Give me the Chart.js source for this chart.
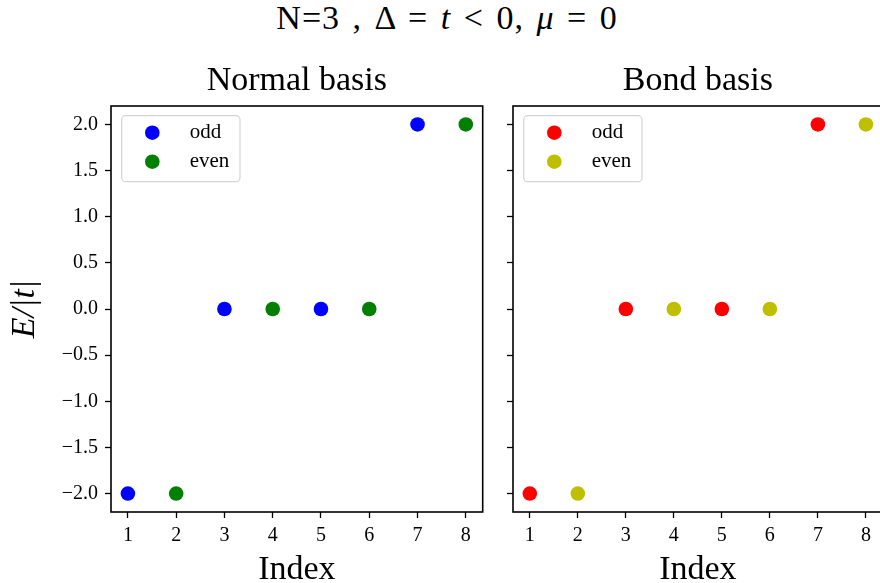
<!DOCTYPE html>
<html>
<head>
<meta charset="utf-8">
<script src="https://cdn.jsdelivr.net/npm/chart.js@4.4.1/dist/chart.umd.min.js"></script>
<style>
  html, body { margin: 0; padding: 0; background: #fff; overflow: hidden; width: 880px; height: 583px; }
  #wrap { position: relative; width: 880px; height: 583px; overflow: hidden; }
  #suptitle { position: absolute; left: 0; top: 1px; width: 894px; text-align: center;
    font-family: "Liberation Serif", serif; font-size: 34px; line-height: 1; color: #000; white-space: pre;
    letter-spacing: 1px; word-spacing: 3px; }
  canvas { position: absolute; top: 0; }
</style>
</head>
<body>
<div id="wrap">
  <div id="suptitle">N=3 , Δ = <i>t</i> &lt; 0, <i>μ</i> = 0</div>
  <canvas id="c1" width="490" height="600" style="left:0px"></canvas>
  <canvas id="c2" width="400" height="600" style="left:490px"></canvas>
</div>
<script>
// ---- data ----
const oddIndex = [1, 3, 5, 7];
const evenIndex = [2, 4, 6, 8];
const normalOdd = [-2.0, 0.0, 0.0, 2.0];
const normalEven = [-2.0, 0.0, 0.0, 2.0];
const bondOdd = [-2.0, 0.0, 0.0, 2.0];
const bondEven = [-2.0, 0.0, 0.0, 2.0];
const xTicks = [1, 2, 3, 4, 5, 6, 7, 8];
const yTicks = [-2.0, -1.5, -1.0, -0.5, 0.0, 0.5, 1.0, 1.5, 2.0];
const seriesLabels = ['odd', 'even'];
const subTitles = ['Normal basis', 'Bond basis'];
const xTitle = 'Index';
const yTitle = 'E/|t|';

const FONT = '"Liberation Serif", serif';

function pts(xs, ys) { return xs.map((x, i) => ({ x: x, y: ys[i] })); }
function fmtY(v) { return (v < 0 ? '\u2212' : '') + Math.abs(v).toFixed(1); }

const framePlugin = {
  id: 'frame',
  afterDraw(chart) {
    const a = chart.chartArea, ctx = chart.ctx;
    ctx.save();
    ctx.strokeStyle = '#000';
    ctx.lineWidth = 1.6;
    ctx.strokeRect(a.left, a.top, a.right - a.left, a.bottom - a.top);
    // legend
    const bx = a.left + 10.7, by = a.top + 9.7, bw = 118.3, bh = 66, r = 4;
    ctx.globalAlpha = 0.8;
    ctx.fillStyle = '#fff';
    ctx.beginPath();
    ctx.roundRect(bx, by, bw, bh, r);
    ctx.fill();
    ctx.globalAlpha = 1;
    ctx.strokeStyle = '#d4d4d4';
    ctx.lineWidth = 1.2;
    ctx.stroke();
    chart.data.datasets.forEach((ds, i) => {
      const cy = by + 17 + i * 29;
      ctx.fillStyle = ds.backgroundColor;
      ctx.beginPath();
      ctx.arc(bx + 30.6, cy, 7.3, 0, Math.PI * 2);
      ctx.fill();
      ctx.fillStyle = '#000';
      ctx.font = '21px ' + FONT;
      ctx.textBaseline = 'middle';
      ctx.textAlign = 'left';
      ctx.fillText(ds.label, bx + 68, cy);
    });
    ctx.restore();
  }
};

function makeChart(id, title, oddY, evenY, oddColor, evenColor, showY, yAxisWidth, padRight) {
  return new Chart(document.getElementById(id), {
    type: 'scatter',
    data: {
      datasets: [
        { label: seriesLabels[0], data: pts(oddIndex, oddY), backgroundColor: oddColor, borderWidth: 0, pointRadius: 7.3, pointHoverRadius: 7.3 },
        { label: seriesLabels[1], data: pts(evenIndex, evenY), backgroundColor: evenColor, borderWidth: 0, pointRadius: 7.3, pointHoverRadius: 7.3 }
      ]
    },
    options: {
      responsive: false,
      animation: false,
      events: [],
      layout: { padding: { top: 60.6, left: 0, right: padRight, bottom: 0 } },
      plugins: {
        legend: { display: false },
        tooltip: { enabled: false },
        title: {
          display: true, text: title, fullSize: false, color: '#000',
          font: { family: FONT, size: 34, weight: 'normal', lineHeight: 1.2 },
          padding: { top: 0, bottom: 4.6 }
        }
      },
      scales: {
        x: {
          type: 'linear', min: 0.65, max: 8.35,
          afterBuildTicks: s => { s.ticks = xTicks.map(v => ({ value: v })); },
          afterFit: s => { s.height = 88; },
          grid: { display: true, drawOnChartArea: false, drawTicks: true, tickLength: 6, color: '#000', tickWidth: 1.3 },
          border: { display: false },
          ticks: { color: '#000', padding: 6, font: { family: FONT, size: 20 }, maxRotation: 0, autoSkip: false, callback: v => String(v) },
          title: { display: true, text: xTitle, color: '#000', font: { family: FONT, size: 34, lineHeight: 1.2 }, padding: { top: 0, bottom: 10 } }
        },
        y: {
          type: 'linear', min: -2.2, max: 2.2,
          afterBuildTicks: s => { s.ticks = yTicks.map(v => ({ value: v })); },
          afterFit: s => { s.width = yAxisWidth; },
          grid: { display: true, drawOnChartArea: false, drawTicks: true, tickLength: 6, color: '#000', tickWidth: 1.3 },
          border: { display: false },
          ticks: { display: showY, color: '#000', padding: 7, font: { family: FONT, size: 20 }, autoSkip: false, callback: v => fmtY(v) },
          title: { display: showY, text: yTitle, color: '#000', font: { family: FONT, size: 34, style: 'italic', lineHeight: 1.2 }, padding: { top: 5 } }
        }
      }
    },
    plugins: [framePlugin]
  });
}

makeChart('c1', subTitles[0], normalOdd, normalEven, '#0000ff', '#008000', true, 111, 7);
makeChart('c2', subTitles[1], bondOdd, bondEven, '#ff0000', '#bfbf00', false, 23, 5);
</script>
</body>
</html>
